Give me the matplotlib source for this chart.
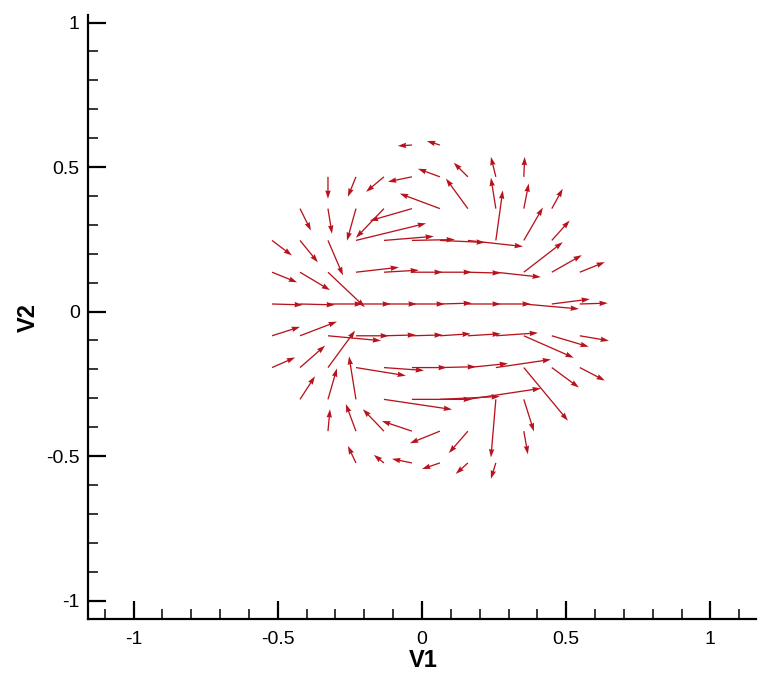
import matplotlib
matplotlib.use('Agg')
import matplotlib.pyplot as plt
import numpy as np
from matplotlib.ticker import MultipleLocator, FixedLocator, FixedFormatter

plt.rcParams['font.family'] = ['Liberation Sans', 'DejaVu Sans']
plt.rcParams['axes.unicode_minus'] = False

# sample grid (V1 columns, V2 rows)
grid_x = [-0.520, -0.423, -0.326, -0.229, -0.132, -0.035, 0.062, 0.159, 0.256, 0.353, 0.450, 0.547]
grid_y = [0.576, 0.466, 0.356, 0.246, 0.136, 0.026, -0.084, -0.194, -0.304, -0.414, -0.524]

# vector field: grid row index, grid column index, components
row = [0, 0,
       1, 1, 1, 1, 1, 1, 1, 1,
       2, 2, 2, 2, 2, 2, 2, 2, 2, 2,
       3, 3, 3, 3, 3, 3, 3, 3, 3, 3, 3,
       4, 4, 4, 4, 4, 4, 4, 4, 4, 4, 4, 4,
       5, 5, 5, 5, 5, 5, 5, 5, 5, 5, 5, 5,
       6, 6, 6, 6, 6, 6, 6, 6, 6, 6, 6, 6,
       7, 7, 7, 7, 7, 7, 7, 7, 7, 7, 7, 7,
       8, 8, 8, 8, 8, 8, 8, 8, 8,
       9, 9, 9, 9, 9, 9, 9,
       10, 10, 10, 10, 10, 10]
col = [5, 6,
       2, 3, 4, 5, 6, 7, 8, 9,
       1, 2, 3, 4, 5, 6, 7, 8, 9, 10,
       0, 1, 2, 3, 4, 5, 6, 7, 8, 9, 10,
       0, 1, 2, 3, 4, 5, 6, 7, 8, 9, 10, 11,
       0, 1, 2, 3, 4, 5, 6, 7, 8, 9, 10, 11,
       0, 1, 2, 3, 4, 5, 6, 7, 8, 9, 10, 11,
       0, 1, 2, 3, 4, 5, 6, 7, 8, 9, 10, 11,
       1, 2, 3, 4, 5, 6, 7, 8, 9,
       2, 3, 4, 5, 6, 7, 9,
       3, 4, 5, 6, 7, 8]
u = [-0.049, -0.045,
     0.000, -0.028, -0.062, -0.083, -0.076, -0.049, -0.017, 0.003,
     0.038, 0.014, -0.031, -0.097, -0.146, -0.139, -0.076, -0.017, 0.017, 0.038,
     0.069, 0.062, 0.052, 0.243, 0.173, 0.149, 0.156, 0.191, 0.024, 0.066, 0.062,
     0.087, 0.104, 0.128, 0.149, 0.121, 0.107, 0.111, 0.114, 0.156, 0.135, 0.104, 0.087,
     0.107, 0.121, 0.121, 0.121, 0.114, 0.114, 0.111, 0.114, 0.121, 0.191, 0.132, 0.097,
     0.097, 0.128, 0.184, 0.114, 0.111, 0.107, 0.107, 0.114, 0.146, 0.173, 0.128, 0.101,
     0.080, 0.087, 0.094, 0.173, 0.139, 0.121, 0.125, 0.139, 0.191, 0.153, 0.094, 0.087,
     0.052, 0.031, -0.024, 0.236, 0.208, 0.208, 0.253, -0.017, 0.035,
     0.007, -0.035, -0.073, -0.104, -0.104, -0.066, 0.014,
     -0.028, -0.035, -0.069, -0.062, -0.042, -0.017]
v = [-0.003, 0.014,
     -0.076, -0.069, -0.052, -0.017, 0.028, 0.049, 0.069, 0.069,
     -0.076, -0.087, -0.111, -0.101, -0.042, 0.052, 0.104, 0.107, 0.087, 0.069,
     -0.052, -0.076, -0.121, 0.059, 0.014, 0.003, -0.007, -0.021, 0.173, 0.114, 0.069,
     -0.035, -0.062, -0.121, 0.017, 0.007, 0.000, 0.000, -0.003, -0.017, 0.104, 0.059, 0.035,
     -0.003, -0.003, 0.000, 0.000, 0.000, 0.000, 0.003, 0.000, 0.000, -0.017, 0.017, 0.003,
     0.031, 0.049, -0.017, 0.000, 0.003, 0.003, 0.007, 0.007, 0.010, -0.076, -0.038, -0.017,
     0.035, 0.076, 0.128, -0.028, -0.010, 0.000, 0.003, 0.014, 0.028, -0.184, -0.069, -0.045,
     0.080, 0.107, 0.149, -0.035, 0.000, 0.010, 0.038, -0.201, -0.111,
     0.076, 0.094, 0.076, 0.035, -0.042, -0.076, -0.080,
     0.059, 0.028, 0.014, -0.021, -0.038, -0.055]

x = np.array([grid_x[c] for c in col])
y = np.array([grid_y[r] for r in row])

major_ticks = [-1, -0.5, 0, 0.5, 1]
tick_labels = ['-1', '-0.5', '0', '0.5', '1']

fig = plt.figure(figsize=(7.6, 6.73), dpi=100)
ax = fig.add_axes([88/760, 54/673, 668/760, 604/673])

ax.quiver(x, y, u, v, angles='xy', scale_units='xy', scale=1,
          units='dots', width=1.3, headwidth=4.2, headlength=6.5,
          headaxislength=6.0, color='#b8121c', zorder=3)

ax.set_xlim(-1.158, 1.158)
ax.set_ylim(-1.064, 1.026)

for s in ['top', 'right']:
    ax.spines[s].set_visible(False)
for s in ['left', 'bottom']:
    ax.spines[s].set_linewidth(1.6)

ax.xaxis.set_major_locator(FixedLocator(major_ticks))
ax.xaxis.set_major_formatter(FixedFormatter(tick_labels))
ax.yaxis.set_major_locator(FixedLocator(major_ticks))
ax.yaxis.set_major_formatter(FixedFormatter(tick_labels))
ax.xaxis.set_minor_locator(MultipleLocator(0.1))
ax.yaxis.set_minor_locator(MultipleLocator(0.1))

ax.tick_params(which='major', direction='in', length=13, width=1.6,
               labelsize=14, top=False, right=False)
ax.tick_params(axis='x', which='major', pad=9)
ax.tick_params(axis='y', which='major', pad=6)
ax.tick_params(which='minor', direction='in', length=7, width=1.1,
               top=False, right=False)

ax.set_xlabel('V1', fontsize=17, fontweight='bold', va='center')
ax.set_ylabel('V2', fontsize=17, fontweight='bold', va='center')
ax.xaxis.set_label_coords(0.502, -0.068)
ax.yaxis.set_label_coords(-0.09, 0.5)

fig.savefig('out.png', dpi=100)
